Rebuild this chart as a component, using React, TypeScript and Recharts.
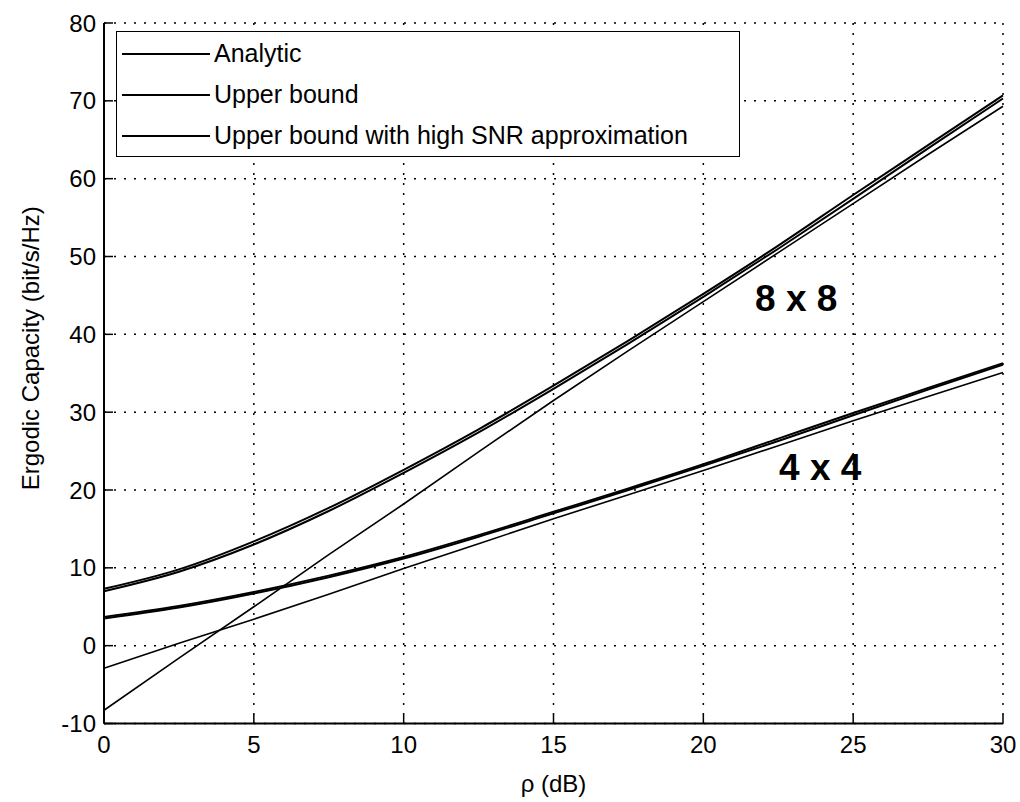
import React from "react";
import {
  CartesianGrid,
  Label,
  Line,
  LineChart,
  ReferenceDot,
  XAxis,
  YAxis,
} from "recharts";

const snrDb = [0, 2.5, 5, 7.5, 10, 12.5, 15, 17.5, 20, 22.5, 25, 27.5, 30];

// 8 x 8
const analytic8 = [7.0, 9.5, 13.0, 17.3, 22.2, 27.4, 33.0, 38.8, 44.8, 51.0, 57.4, 63.9, 70.3];
const upper8 = [7.3, 9.8, 13.4, 17.7, 22.6, 27.8, 33.4, 39.2, 45.2, 51.4, 57.9, 64.3, 70.7];
const approx8 = [-8.3, -1.6, 5.0, 11.7, 18.2, 24.9, 31.5, 37.9, 44.2, 50.5, 56.8, 63.1, 69.3];

// 4 x 4
const analytic4 = [3.5, 4.9, 6.7, 8.8, 11.2, 14.0, 17.0, 20.0, 23.1, 26.3, 29.6, 32.9, 36.1];
const upper4 = [3.7, 5.1, 6.9, 9.0, 11.4, 14.2, 17.2, 20.2, 23.3, 26.6, 29.9, 33.1, 36.3];
const approx4 = [-2.9, 0.3, 3.4, 6.6, 9.9, 13.1, 16.3, 19.4, 22.5, 25.7, 28.9, 32.0, 35.1];

const xTicks = [0, 5, 10, 15, 20, 25, 30];
const yTicks = [-10, 0, 10, 20, 30, 40, 50, 60, 70, 80];

const seriesNames = [
  "Analytic",
  "Upper bound",
  "Upper bound with high SNR approximation",
];

const font = "'Liberation Sans', Arial, Helvetica, sans-serif";
const tickStyle = { fill: "#000", fontSize: 24, fontFamily: font };
const axisLine = { stroke: "#000", strokeWidth: 2 };
const tickLine = { stroke: "#000", strokeWidth: 1.5 };

const data = snrDb.map((x, i) => ({
  x,
  analytic8: analytic8[i],
  upper8: upper8[i],
  approx8: approx8[i],
  analytic4: analytic4[i],
  upper4: upper4[i],
  approx4: approx4[i],
}));

function LegendBox() {
  return (
    <div
      style={{
        position: "absolute",
        left: 116,
        top: 31,
        width: 624,
        height: 126,
        border: "1.5px solid #000",
        background: "#fff",
        boxSizing: "border-box",
        paddingTop: 1,
      }}
    >
      {seriesNames.map((name) => (
        <div key={name} style={{ display: "flex", alignItems: "center", height: 41 }}>
          <svg width={92} height={10} style={{ marginLeft: 5 }}>
            <line x1={0} y1={5} x2={88} y2={5} stroke="#000" strokeWidth={2} />
          </svg>
          <span style={{ fontFamily: font, fontSize: 25, color: "#000" }}>{name}</span>
        </div>
      ))}
    </div>
  );
}

const yLabel = ({ viewBox }: any) => {
  const cx = 30;
  const cy = viewBox.y + viewBox.height / 2 - 25;
  return (
    <text
      x={cx}
      y={cy}
      transform={`rotate(-90, ${cx}, ${cy})`}
      textAnchor="middle"
      dominantBaseline="central"
      fontSize={24}
      fontFamily={font}
      fill="#000"
    >
      Ergodic Capacity (bit/s/Hz)
    </text>
  );
};

export default function App() {
  return (
    <div style={{ position: "absolute", left: 0, top: 0, width: 1020, height: 802, background: "#fff" }}>
      <LineChart
        width={1020}
        height={802}
        data={data}
        margin={{ top: 23, right: 17, bottom: 0, left: 0 }}
      >
        <CartesianGrid stroke="#000" strokeWidth={1.5} strokeDasharray="2 8" />
        <XAxis
          dataKey="x"
          type="number"
          domain={[0, 30]}
          ticks={xTicks}
          height={78.5}
          tick={tickStyle}
          tickSize={-9}
          tickMargin={21}
          axisLine={axisLine}
          tickLine={tickLine}
        >
          <Label
            value="ρ (dB)"
            position="insideBottom"
            offset={10}
            fontSize={24}
            fontFamily={font}
            fill="#000"
          />
        </XAxis>
        <XAxis
          xAxisId="top"
          orientation="top"
          dataKey="x"
          type="number"
          domain={[0, 30]}
          ticks={xTicks}
          height={0}
          tickSize={-9}
          tickFormatter={() => ""}
          axisLine={axisLine}
          tickLine={tickLine}
        />
        <YAxis
          type="number"
          domain={[-10, 80]}
          ticks={yTicks}
          width={104}
          tick={tickStyle}
          tickSize={-9}
          tickMargin={17}
          axisLine={axisLine}
          tickLine={tickLine}
        >
          <Label content={yLabel} />
        </YAxis>
        <YAxis
          yAxisId="right"
          orientation="right"
          type="number"
          domain={[-10, 80]}
          ticks={yTicks}
          width={0}
          tickSize={-9}
          tickFormatter={() => ""}
          axisLine={axisLine}
          tickLine={tickLine}
        />

        <Line dataKey="analytic8" name={seriesNames[0]} type="monotone" stroke="#000" strokeWidth={2} dot={false} isAnimationActive={false} />
        <Line dataKey="upper8" name={seriesNames[1]} type="monotone" stroke="#000" strokeWidth={2} dot={false} isAnimationActive={false} />
        <Line dataKey="approx8" name={seriesNames[2]} type="linear" stroke="#000" strokeWidth={1.6} dot={false} isAnimationActive={false} />
        <Line dataKey="analytic4" name={seriesNames[0]} type="monotone" stroke="#000" strokeWidth={2} dot={false} isAnimationActive={false} />
        <Line dataKey="upper4" name={seriesNames[1]} type="monotone" stroke="#000" strokeWidth={2} dot={false} isAnimationActive={false} />
        <Line dataKey="approx4" name={seriesNames[2]} type="linear" stroke="#000" strokeWidth={1.6} dot={false} isAnimationActive={false} />

        <ReferenceDot
          x={23.1}
          y={44.7}
          r={0}
          label={{ value: "8 x 8", position: "center", fill: "#000", fontSize: 37, fontWeight: 700, fontFamily: font }}
        />
        <ReferenceDot
          x={23.9}
          y={23.0}
          r={0}
          label={{ value: "4 x 4", position: "center", fill: "#000", fontSize: 37, fontWeight: 700, fontFamily: font }}
        />
      </LineChart>
      <LegendBox />
    </div>
  );
}
